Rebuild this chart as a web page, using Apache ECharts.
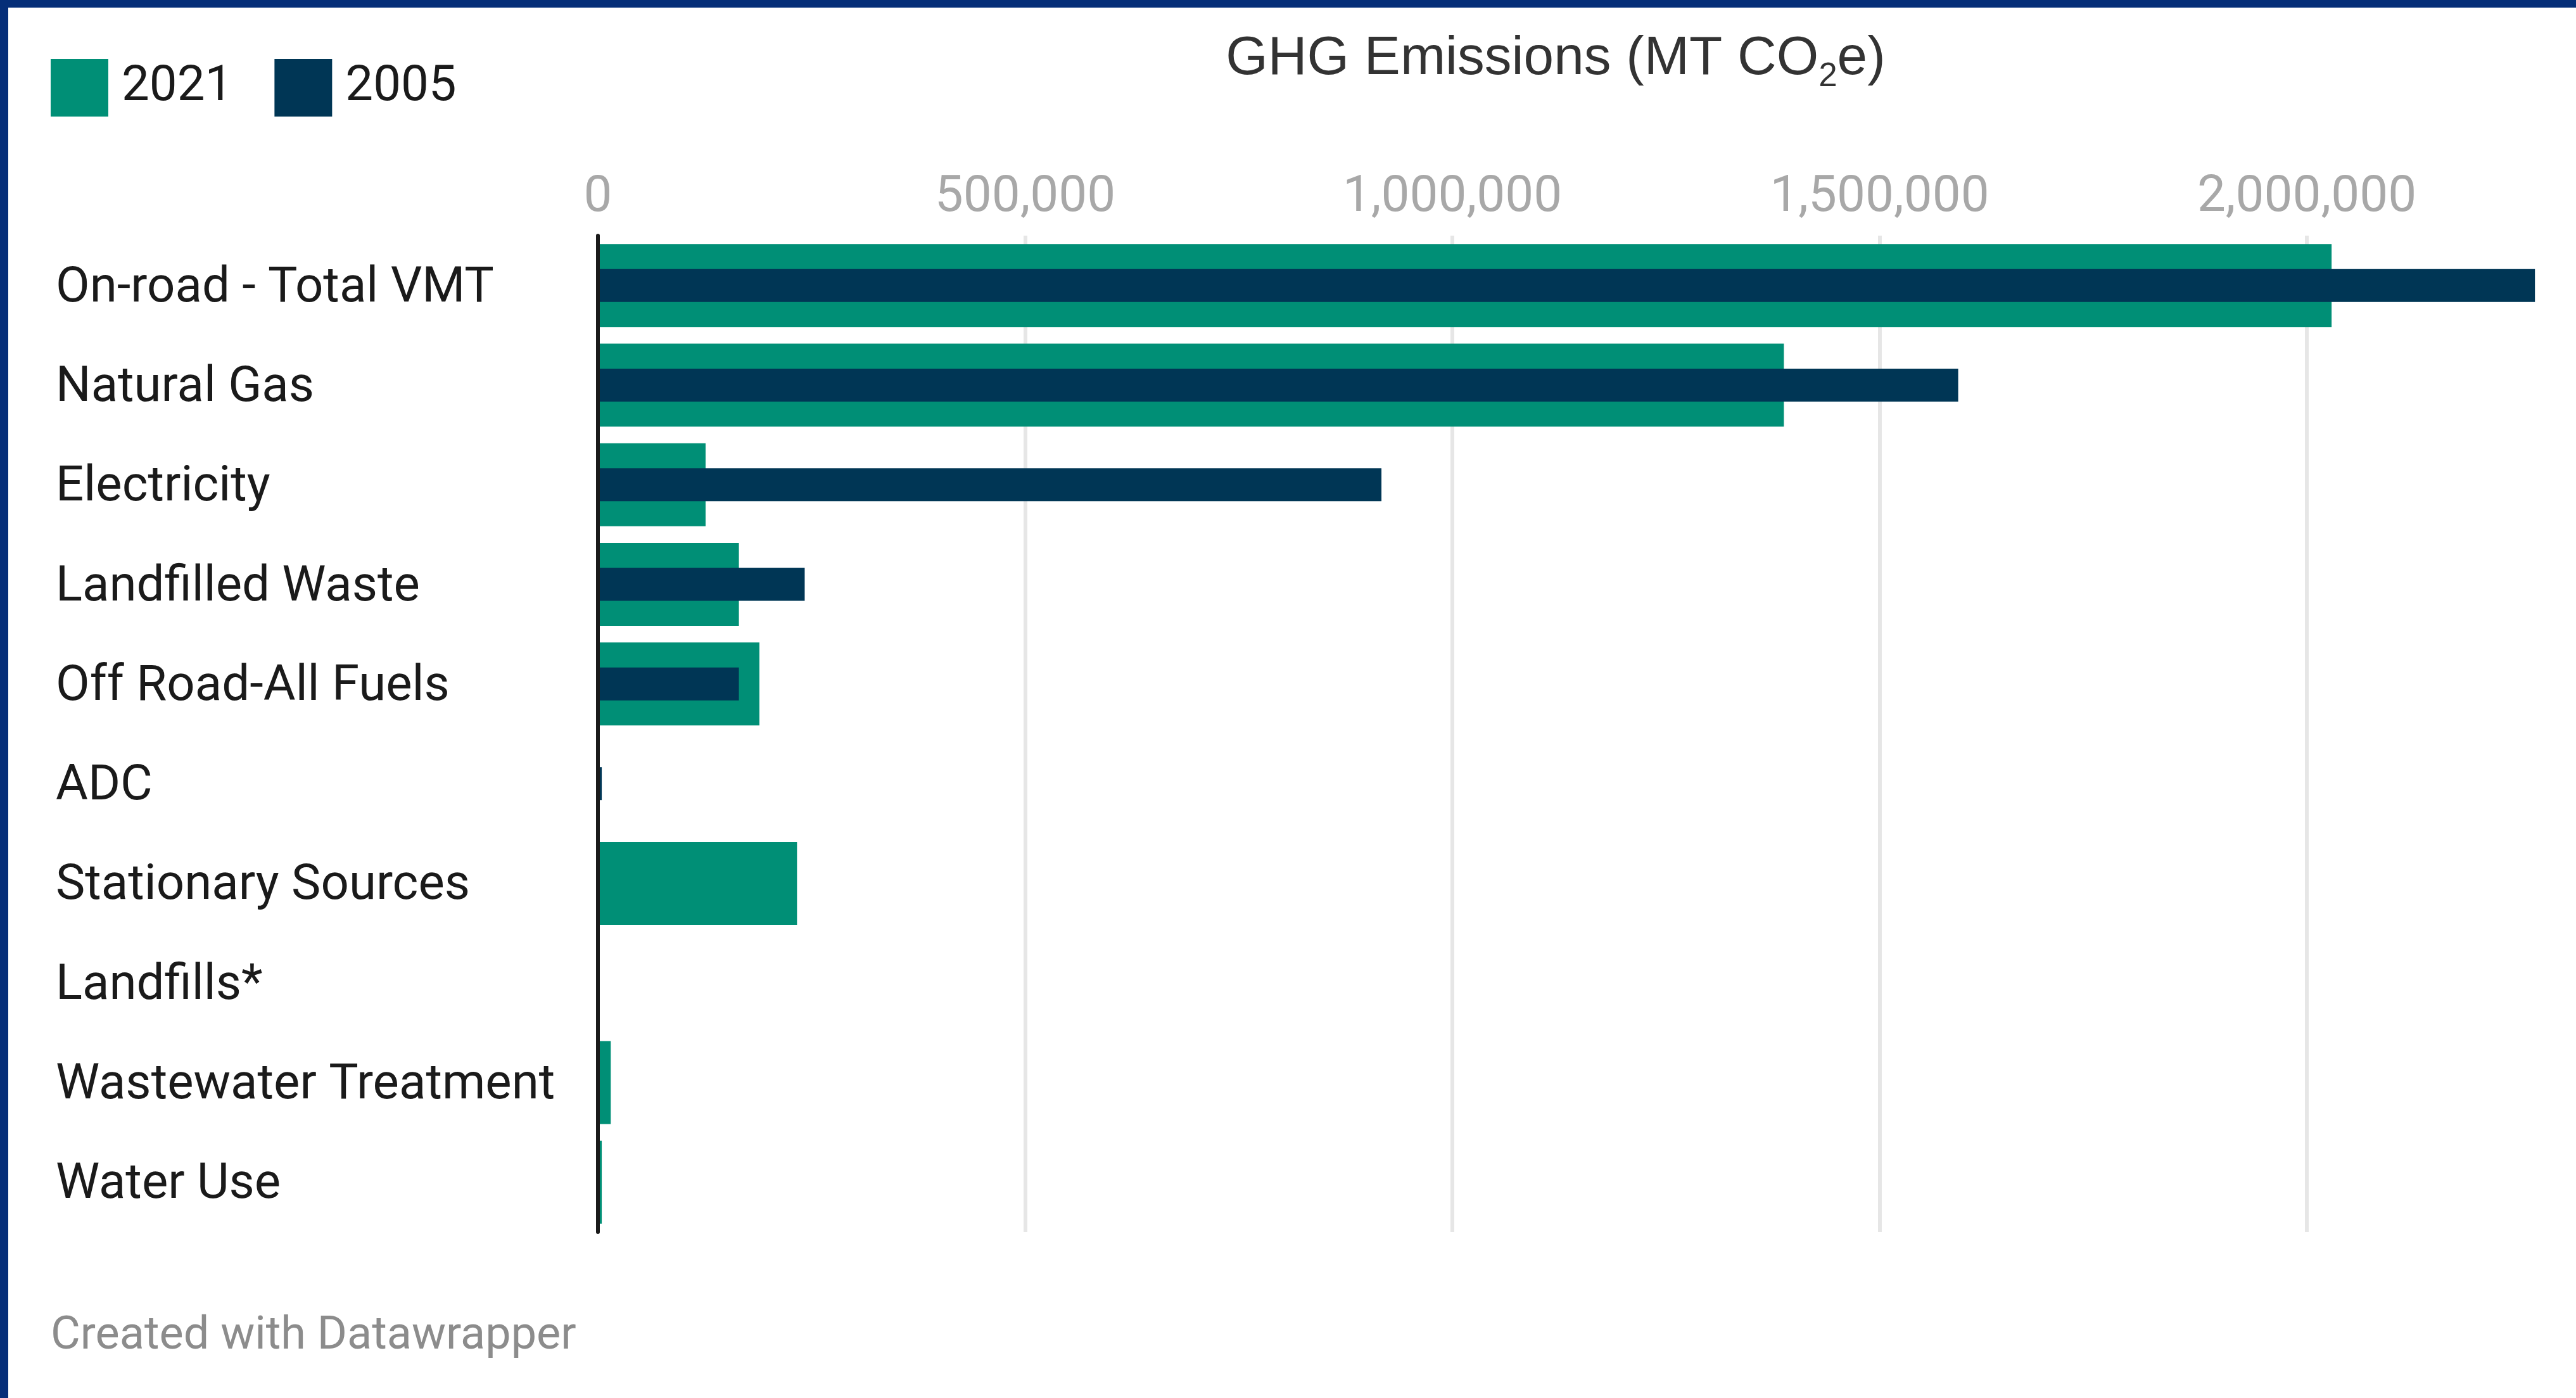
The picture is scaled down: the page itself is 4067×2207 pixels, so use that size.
<html lang="en">
<head>
    <meta charset="UTF-8">
    <title>GHG Emissions</title>
    <script src="https://cdn.jsdelivr.net/npm/echarts@6/dist/echarts.min.js"></script>
    <style>
        body { margin: 0; background: #fff; }
        #main { width: 4067px; height: 2207px; }
    </style>
</head>
<body>
    <div id="main"></div>
    <script type="text/javascript">
        // categories, top to bottom
        var categories = ['On-road - Total VMT', 'Natural Gas', 'Electricity', 'Landfilled Waste',
            'Off Road-All Fuels', 'ADC', 'Stationary Sources', 'Landfills*',
            'Wastewater Treatment', 'Water Use'];
        // MT CO2e
        var values2021 = [2029000, 1388000, 126000, 165000, 189000, 0, 233000, 0, 15000, 4500];
        var values2005 = [2267000, 1592000, 917000, 242000, 165000, 4500, 0, 0, 0, 0];
        var seriesNames = ['2021', '2005'];
        var tickStep = 500000;

        var green = '#008f76';
        var navy = '#003655';

        var chart = echarts.init(document.getElementById('main'));

        var option = {
            animation: false,
            backgroundColor: '#ffffff',
            legend: {
                data: seriesNames,
                left: 75,
                top: 88,
                icon: 'rect',
                itemWidth: 91,
                itemHeight: 91,
                itemGap: 66,
                textStyle: {
                    fontFamily: 'Roboto',
                    fontSize: 78,
                    color: '#1a1a1a',
                    padding: [0, 0, 0, 16]
                }
            },
            grid: {
                left: 944,
                top: 372,
                width: 3372.5,
                height: 1573,
                outerBoundsMode: 'none'
            },
            xAxis: {
                type: 'value',
                position: 'top',
                min: 0,
                max: 2500000,
                interval: tickStep,
                axisLine: { show: false },
                axisTick: { show: false },
                splitLine: {
                    show: true,
                    lineStyle: { color: '#e6e6e6', width: 6 }
                },
                axisLabel: {
                    margin: 19,
                    showMaxLabel: false,
                    fontFamily: 'Roboto',
                    fontSize: 80,
                    color: '#a8a8a8',
                    formatter: function (v) {
                        return v.toLocaleString('en-US');
                    }
                }
            },
            yAxis: [{
                type: 'category',
                data: categories,
                inverse: true,
                z: 5,
                axisLine: {
                    show: true,
                    lineStyle: { color: '#1a1a1a', width: 6 }
                },
                axisTick: { show: false },
                splitLine: { show: false },
                axisLabel: {
                    align: 'left',
                    margin: 856,
                    formatter: function (v) {
                        return '{l|' + v + '}';
                    },
                    rich: {
                        l: {
                            padding: [11, 0, 0, 0],
                            fontFamily: 'Roboto',
                            fontSize: 78,
                            color: '#1a1a1a'
                        }
                    }
                }
            }, {
                // second axis only so the thin bar sits centred on the thick one
                type: 'category',
                data: categories,
                inverse: true,
                show: false
            }],
            series: [{
                name: seriesNames[0],
                type: 'bar',
                yAxisIndex: 0,
                barWidth: 131,
                z: 2,
                itemStyle: { color: green },
                data: values2021
            }, {
                name: seriesNames[1],
                type: 'bar',
                yAxisIndex: 1,
                barWidth: 52,
                z: 3,
                itemStyle: { color: navy },
                data: values2005
            }],
            graphic: [{
                type: 'rect',
                shape: { x: 0, y: 0, width: 4067, height: 12 },
                style: { fill: '#052e78' },
                z: 100
            }, {
                type: 'rect',
                shape: { x: 0, y: 0, width: 13, height: 2207 },
                style: { fill: '#052e78' },
                z: 100
            }, {
                type: 'text',
                x: 2456,
                y: 93,
                style: {
                    text: '{a|GHG Emissions (MT CO}{sub|2}{a|e)}',
                    align: 'center',
                    verticalAlign: 'middle',
                    fill: '#333333',
                    rich: {
                        a: {
                            fontFamily: 'Liberation Sans',
                            fontSize: 85.5,
                            lineHeight: 110,
                            color: '#333333'
                        },
                        sub: {
                            fontFamily: 'Liberation Sans',
                            fontSize: 53,
                            lineHeight: 50,
                            verticalAlign: 'bottom',
                            color: '#333333'
                        }
                    }
                }
            }, {
                type: 'text',
                x: 80,
                y: 2111,
                style: {
                    text: 'Created with Datawrapper',
                    fontFamily: 'Roboto',
                    fontSize: 72,
                    fill: '#8c8c8c',
                    verticalAlign: 'middle'
                }
            }]
        };

        chart.setOption(option);
    </script>
</body>
</html>
